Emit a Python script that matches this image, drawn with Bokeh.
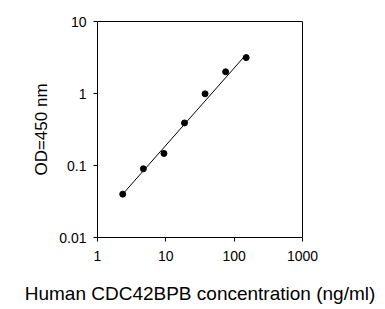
from bokeh.plotting import figure
from bokeh.models import Range1d, FixedTicker, CustomJSTickFormatter
from bokeh.embed import file_html
from bokeh.resources import INLINE

# Data
conc = [2.34, 4.69, 9.38, 18.75, 37.5, 75, 150]
od = [0.040, 0.090, 0.147, 0.39, 0.99, 2.0, 3.15]
fit_conc = [2.34, 148]
fit_od = [0.040, 3.44]
x_ticks = [1, 10, 100, 1000]
y_ticks = [0.01, 0.1, 1, 10]

FONT = "Liberation Sans"

p = figure(width=385, height=309, x_axis_type="log", y_axis_type="log",
           x_range=Range1d(1, 1000), y_range=Range1d(0.01, 10),
           output_backend="svg", toolbar_location=None,
           min_border_left=97, min_border_right=83,
           min_border_top=21, min_border_bottom=72,
           background_fill_color="white", border_fill_color="white")

p.xgrid.visible = False
p.ygrid.visible = False
p.outline_line_color = "black"
p.outline_line_alpha = 1.0
p.outline_line_width = 1

fmt = CustomJSTickFormatter(code="return tick.toString();")

for ax, ticks in ((p.xaxis[0], x_ticks), (p.yaxis[0], y_ticks)):
    ax.ticker = FixedTicker(ticks=ticks, minor_ticks=[])
    ax.formatter = fmt
    ax.axis_line_color = "black"
    ax.major_tick_line_color = "black"
    ax.major_tick_out = 4
    ax.major_tick_in = 0
    ax.minor_tick_line_color = None
    ax.major_label_text_font = FONT
    ax.major_label_text_font_size = "14px"
    ax.major_label_text_color = "black"
    ax.axis_label_text_font = FONT
    ax.axis_label_text_font_style = "normal"
    ax.axis_label_text_color = "black"

p.xaxis.axis_label = "Human CDC42BPB concentration (ng/ml)"
p.xaxis.axis_label_text_font_size = "19px"
p.xaxis.major_label_standoff = 9
p.xaxis.axis_label_standoff = 19

p.yaxis.axis_label = "OD=450 nm"
p.yaxis.axis_label_text_font_size = "17px"
p.yaxis.major_label_standoff = 7
p.yaxis.axis_label_standoff = 5

p.line(fit_conc, fit_od, line_color="black", line_width=1)
p.scatter(conc, od, size=6, color="black")

open("out.html", "w").write(file_html(p, INLINE))
